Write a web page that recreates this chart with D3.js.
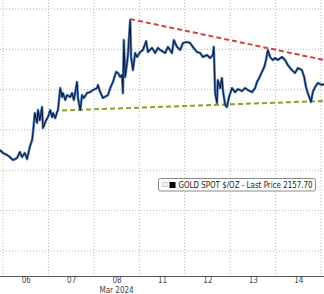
<!DOCTYPE html>
<html>
<head>
<meta charset="utf-8">
<script src="https://cdn.jsdelivr.net/npm/d3@7"></script>
<style>
  html, body { margin: 0; padding: 0; background: #fff; }
  svg { display: block; }
  .grid line { stroke: #b4b4b4; stroke-width: 1; stroke-dasharray: 1,2; }
  .axis-x .domain { stroke: #5a5a5a; }
  .axis-x text { font-family: "Liberation Sans Narrow", "DejaVu Sans Condensed", sans-serif; font-size: 8px; fill: #444; }
</style>
</head>
<body>
<div id="chart"></div>
<script>
// trading-day index (0 = start of the 06 session) and gold spot price
const times = [
  -0.07, 0.00, 0.09, 0.15, 0.22, 0.31, 0.37, 0.42, 0.48, 0.53, 0.59, 0.64, 0.66, 0.70, 0.75, 0.77,
  0.81, 0.86, 0.88, 0.95, 0.99, 1.04, 1.08, 1.10, 1.15, 1.19, 1.21, 1.26, 1.30, 1.32, 1.37, 1.41,
  1.48, 1.52, 1.56, 1.63, 1.65, 1.70, 1.74, 1.78, 1.85, 1.92, 1.98, 2.07, 2.09, 2.14, 2.20, 2.27,
  2.31, 2.36, 2.42, 2.49, 2.53, 2.58, 2.62, 2.64, 2.66, 2.69, 2.73, 2.75, 2.80, 2.82, 2.86, 2.91,
  2.95, 3.02, 3.08, 3.15, 3.19, 3.28, 3.35, 3.41, 3.46, 3.57, 3.63, 3.72, 3.76, 3.83, 3.90, 3.96,
  4.05, 4.12, 4.18, 4.27, 4.34, 4.40, 4.49, 4.56, 4.62, 4.64, 4.67, 4.71, 4.73, 4.78, 4.82, 4.84,
  4.89, 4.93, 4.97, 5.04, 5.11, 5.17, 5.26, 5.33, 5.39, 5.48, 5.55, 5.59, 5.64, 5.70, 5.75, 5.79,
  5.83, 5.88, 5.94, 5.99, 6.05, 6.14, 6.21, 6.27, 6.36, 6.43, 6.49, 6.58, 6.63, 6.67, 6.71, 6.78,
  6.82, 6.87, 6.93, 7.02, 7.07
];
const prices = [
  2130.1, 2128.6, 2127.6, 2126.6, 2125.1, 2126.1, 2129.1, 2126.6, 2128.6, 2125.6, 2131.6, 2135.0, 2138.5, 2148.4, 2143.5, 2149.9,
  2144.9, 2151.4, 2141.0, 2144.9, 2146.4, 2149.9, 2146.4, 2148.4, 2145.9, 2148.9, 2149.9, 2160.8, 2156.4, 2158.3, 2154.9, 2157.3,
  2156.4, 2158.3, 2154.9, 2163.8, 2155.9, 2149.9, 2157.3, 2155.9, 2158.3, 2158.8, 2159.8, 2160.8, 2162.3, 2158.8, 2155.9, 2156.8,
  2157.3, 2160.8, 2163.8, 2168.8, 2168.3, 2166.3, 2167.3, 2158.3, 2184.6, 2166.3, 2173.2, 2177.2, 2194.5, 2176.2, 2169.7, 2178.2,
  2176.2, 2178.7, 2179.7, 2184.1, 2178.7, 2180.7, 2178.2, 2180.7, 2179.7, 2178.2, 2181.2, 2178.2, 2184.6, 2181.2, 2179.7, 2183.1,
  2183.6, 2183.1, 2181.2, 2178.7, 2178.2, 2176.2, 2177.2, 2175.7, 2177.2, 2181.2, 2158.3, 2153.4, 2164.8, 2160.8, 2165.8, 2159.8,
  2152.4, 2151.4, 2155.9, 2160.8, 2158.8, 2160.3, 2159.3, 2160.8, 2159.8, 2158.8, 2160.8, 2163.8, 2165.8, 2168.8, 2171.2, 2174.7,
  2179.7, 2176.2, 2174.7, 2175.7, 2174.7, 2176.2, 2174.7, 2172.2, 2169.7, 2168.3, 2170.7, 2169.7, 2166.3, 2161.3, 2158.3, 2153.9,
  2158.8, 2161.3, 2163.3, 2162.3, 2162.8
];
const resistanceLine = [[2.80, 2195.0], [7.07, 2174.7]];
const supportLine = [[1.30, 2149.7], [7.07, 2154.4]];
const dayLabels = ['06', '07', '08', '11', '12', '13', '14'];
const monthLabel = 'Mar 2024';
const monthLabelDay = 2;
const priceGrid = [2200, 2180, 2160, 2140, 2120, 2100, 2080];
const legendText = 'GOLD SPOT $/OZ - Last Price 2157.70';

const width = 324, height = 294;
const axisY = 276;

const svg = d3.select('#chart').append('svg')
  .attr('width', width)
  .attr('height', height);

const x = d3.scaleLinear().domain([0, dayLabels.length]).range([3, 321]);
const y = d3.scaleLinear().domain([2080, 2200]).range([251, 9]);

// grid
const grid = svg.append('g').attr('class', 'grid');
grid.selectAll('.hg').data(priceGrid).enter().append('line')
  .attr('x1', 0).attr('x2', width)
  .attr('y1', d => y(d)).attr('y2', d => y(d));
grid.selectAll('.vg').data(d3.range(dayLabels.length + 1)).enter().append('line')
  .attr('x1', d => x(d)).attr('x2', d => x(d))
  .attr('y1', 0).attr('y2', axisY);

// x axis: day labels centred in each session
const xAxis = svg.append('g')
  .attr('class', 'axis axis-x')
  .attr('transform', `translate(0, ${axisY})`)
  .call(d3.axisBottom(x)
    .tickValues(dayLabels.map((d, i) => i + 0.5))
    .tickFormat((d, i) => dayLabels[i])
    .tickSize(0)
    .tickPadding(1.5));
xAxis.select('.domain').attr('d', `M0,0.5H${width}`);
xAxis.append('text')
  .attr('x', x(monthLabelDay + 0.5))
  .attr('y', 17)
  .attr('text-anchor', 'middle')
  .text(monthLabel);

// trend lines
const trend = d3.line().x(d => x(d[0])).y(d => y(d[1]));
svg.append('path').datum(resistanceLine)
  .attr('d', trend)
  .attr('fill', 'none')
  .attr('stroke', '#d2433d')
  .attr('stroke-width', 2)
  .attr('stroke-dasharray', '5,3');
svg.append('path').datum(supportLine)
  .attr('d', trend)
  .attr('fill', 'none')
  .attr('stroke', '#86a32a')
  .attr('stroke-width', 2)
  .attr('stroke-dasharray', '5,3');

// price line
const series = times.map((t, i) => [t, prices[i]]);
const line = d3.line().x(d => x(d[0])).y(d => y(d[1]));
svg.append('path').datum(series)
  .attr('d', line)
  .attr('fill', 'none')
  .attr('stroke', '#5584c6')
  .attr('stroke-width', 2.6)
  .attr('stroke-linejoin', 'round');
svg.append('path').datum(series)
  .attr('d', line)
  .attr('fill', 'none')
  .attr('stroke', '#0f1c38')
  .attr('stroke-width', 1.1)
  .attr('stroke-linejoin', 'round');

// legend
const legend = svg.append('g').attr('transform', 'translate(158.5, 178.5)');
legend.append('rect')
  .attr('width', 157).attr('height', 12.5)
  .attr('rx', 2)
  .attr('fill', '#fff')
  .attr('stroke', '#8a8a8a');
legend.append('rect')
  .attr('x', 4.5).attr('y', 4).attr('width', 4).attr('height', 4)
  .attr('fill', '#fff').attr('stroke', '#bbb').attr('stroke-width', 0.8);
legend.append('rect')
  .attr('x', 11).attr('y', 3.5).attr('width', 6).attr('height', 6)
  .attr('fill', '#000');
legend.append('text')
  .attr('x', 20).attr('y', 9.5)
  .attr('textLength', 134)
  .attr('lengthAdjust', 'spacingAndGlyphs')
  .style('font-family', '"Liberation Sans Narrow", "DejaVu Sans Condensed", sans-serif')
  .style('font-size', '8px')
  .style('fill', '#222')
  .text(legendText);
</script>
</body>
</html>
